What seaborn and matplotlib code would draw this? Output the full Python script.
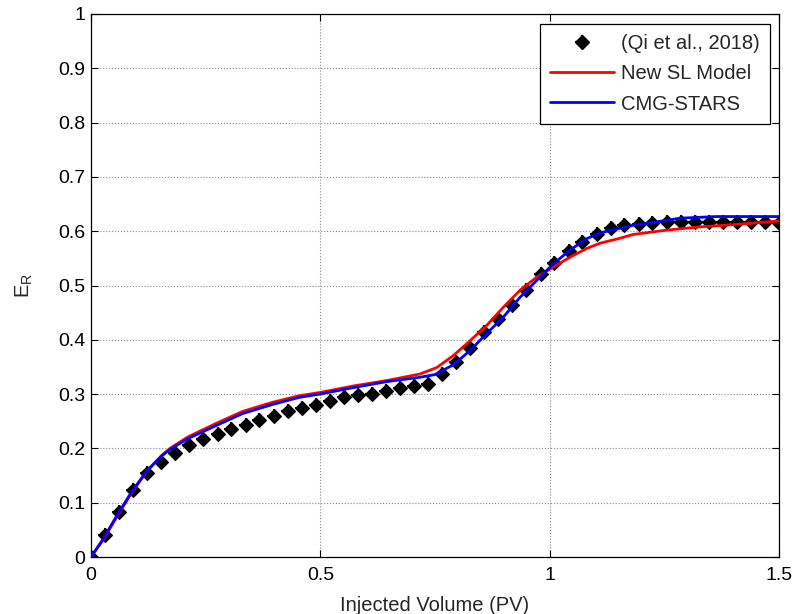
import matplotlib
matplotlib.use("Agg")
import matplotlib.pyplot as plt
import seaborn as sns
from matplotlib.lines import Line2D

# Recovery factor vs injected pore volumes
qi_pv = [0.000, 0.031, 0.061, 0.092, 0.122, 0.153, 0.184, 0.214, 0.245, 0.276,
         0.306, 0.337, 0.367, 0.398, 0.429, 0.459, 0.490, 0.520, 0.551, 0.582,
         0.612, 0.643, 0.673, 0.704, 0.735, 0.765, 0.796, 0.827, 0.857, 0.888,
         0.918, 0.949, 0.980, 1.010, 1.041, 1.071, 1.102, 1.133, 1.163, 1.194,
         1.224, 1.255, 1.286, 1.316, 1.347, 1.378, 1.408, 1.439, 1.469, 1.500]
qi_er = [0.000, 0.041, 0.082, 0.124, 0.155, 0.175, 0.192, 0.207, 0.218, 0.227,
         0.235, 0.244, 0.252, 0.260, 0.268, 0.274, 0.280, 0.287, 0.294, 0.299,
         0.301, 0.305, 0.311, 0.315, 0.318, 0.337, 0.360, 0.385, 0.414, 0.438,
         0.465, 0.492, 0.522, 0.541, 0.563, 0.581, 0.595, 0.605, 0.611, 0.614,
         0.616, 0.617, 0.617, 0.617, 0.617, 0.617, 0.617, 0.617, 0.617, 0.616]

sl_pv = [0, 0.027, 0.057, 0.087, 0.122, 0.154, 0.172, 0.211, 0.27, 0.33,
         0.396, 0.454, 0.499, 0.572, 0.645, 0.717, 0.754, 0.790, 0.826, 0.862,
         0.899, 0.935, 0.971, 1.008, 1.044, 1.080, 1.110, 1.153, 1.182, 1.255,
         1.328, 1.40, 1.458, 1.5]
sl_er = [0, 0.032, 0.075, 0.116, 0.158, 0.187, 0.200, 0.221, 0.245, 0.268,
         0.285, 0.297, 0.303, 0.315, 0.325, 0.337, 0.349, 0.371, 0.398, 0.426,
         0.460, 0.491, 0.515, 0.534, 0.552, 0.568, 0.578, 0.587, 0.594, 0.602,
         0.608, 0.612, 0.616, 0.619]

cmg_pv = [0, 0.027, 0.057, 0.087, 0.122, 0.154, 0.172, 0.211, 0.27, 0.33,
          0.396, 0.454, 0.499, 0.572, 0.645, 0.717, 0.750, 0.790, 0.826, 0.862,
          0.899, 0.935, 0.971, 1.008, 1.044, 1.080, 1.110, 1.182, 1.255, 1.284,
          1.364, 1.5]
cmg_er = [0, 0.034, 0.077, 0.118, 0.159, 0.186, 0.198, 0.218, 0.241, 0.264,
          0.281, 0.294, 0.300, 0.312, 0.323, 0.331, 0.336, 0.354, 0.380, 0.411,
          0.442, 0.478, 0.509, 0.540, 0.565, 0.586, 0.597, 0.611, 0.620, 0.624,
          0.627, 0.627]

labels = ["(Qi et al., 2018)", "New SL Model", "CMG-STARS"]
x_ticks = [0, 0.5, 1, 1.5]
x_ticklabels = ["0", "0.5", "1", "1.5"]
y_ticks = [0, 0.1, 0.2, 0.3, 0.4, 0.5, 0.6, 0.7, 0.8, 0.9, 1]
y_ticklabels = ["0", "0.1", "0.2", "0.3", "0.4", "0.5", "0.6", "0.7", "0.8", "0.9", "1"]

FS = 14

sns.set_style("white")
plt.rcParams["font.family"] = ["Liberation Sans", "DejaVu Sans"]
plt.rcParams["font.size"] = FS

fig = plt.figure(figsize=(7.94, 6.14), dpi=100)
ax = fig.add_axes([0.1146, 0.0928, 0.8666, 0.8844])

# experimental points: filled diamond with a cross through it
sns.lineplot(x=qi_pv, y=qi_er, ax=ax, sort=False, estimator=None, linestyle="",
             marker="D", markersize=7, color="black", markeredgecolor="black",
             markeredgewidth=0.8, zorder=3)
sns.lineplot(x=qi_pv, y=qi_er, ax=ax, sort=False, estimator=None, linestyle="",
             marker="+", markersize=10.5, markeredgewidth=1.5, color="black",
             markeredgecolor="black", zorder=3)
sns.lineplot(x=sl_pv, y=sl_er, ax=ax, sort=False, estimator=None,
             color="#ff0000", linewidth=2, zorder=4)
sns.lineplot(x=cmg_pv, y=cmg_er, ax=ax, sort=False, estimator=None,
             color="#0000ff", linewidth=2, zorder=5)

ax.set_xlim(0, 1.5)
ax.set_ylim(0, 1)
ax.set_xticks(x_ticks)
ax.set_xticklabels(x_ticklabels)
ax.set_yticks(y_ticks)
ax.set_yticklabels(y_ticklabels)
ax.tick_params(direction="in", length=5, width=0.8, top=True, right=True,
               bottom=True, left=True, labelsize=FS, colors="black")
ax.tick_params(axis="x", pad=7)
ax.tick_params(axis="y", pad=4)
ax.grid(True, linestyle=":", color="#888888", linewidth=0.8)
for s in ax.spines.values():
    s.set_color("black")
    s.set_linewidth(0.9)

ax.set_xlabel("Injected Volume (PV)", fontsize=14.5, labelpad=9)
ax.set_ylabel(r"E$_{\mathregular{R}}$", fontsize=14.5, labelpad=17)

h_pts = (Line2D([], [], linestyle="", marker="D", markersize=7, color="black"),
         Line2D([], [], linestyle="", marker="+", markersize=10.5,
                markeredgewidth=1.5, color="black"))
h_sl = Line2D([], [], color="#ff0000", linewidth=2)
h_cmg = Line2D([], [], color="#0000ff", linewidth=2)
leg = ax.legend([h_pts, h_sl, h_cmg], labels, loc="upper right",
                bbox_to_anchor=(0.987, 0.981), borderaxespad=0, fancybox=False,
                framealpha=1, edgecolor="black", handlelength=3.2,
                handletextpad=0.35, labelspacing=0.55, borderpad=0.5,
                fontsize=14.5)
leg.get_frame().set_linewidth(0.9)

fig.savefig("out.png", dpi=100, facecolor="white")
